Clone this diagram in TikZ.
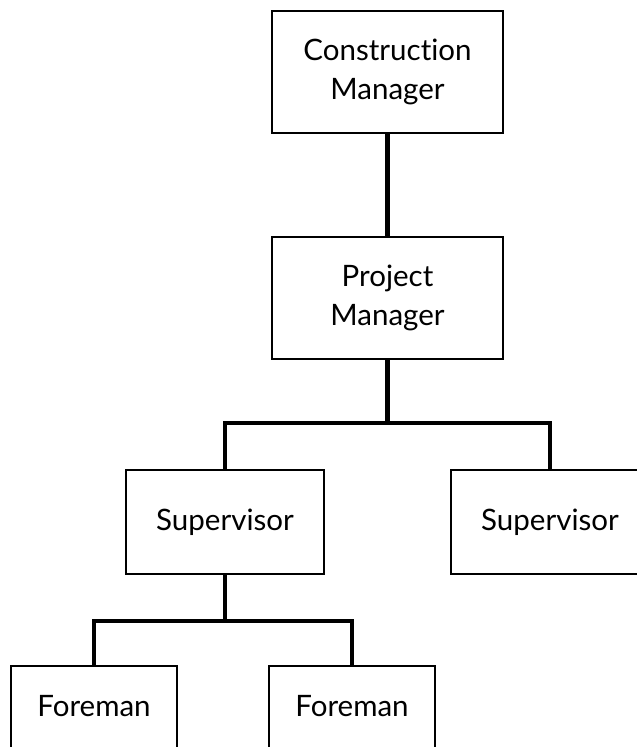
\documentclass[tikz,border=0pt]{standalone}
\usepackage{fontspec}
\setmainfont{Lato}[Ligatures={NoCommon,NoContextual}]
\begin{document}
\begin{tikzpicture}[x=1pt,y=-1pt,
  box/.style={draw, line width=2pt, align=center, inner sep=0pt,
    font=\fontsize{29.5}{39}\selectfont},
  bigbox/.style={box, minimum width=231pt, minimum height=122pt},
  supbox/.style={box, minimum width=198pt, minimum height=104pt},
  forebox/.style={box, minimum width=166pt, minimum height=86pt, text depth=6pt},
  link/.style={line width=4.5pt, line join=miter}]
\useasboundingbox (0,0) rectangle (637,747);
\node[bigbox] (cm) at (387.5,72) {Construction\\Manager};
\node[bigbox] (pm) at (387.5,298) {Project\\Manager};
\node[supbox] (s1) at (225,522) {Supervisor};
\node[supbox] (s2) at (550,522) {Supervisor};
\node[forebox] (f1) at (94,709) {Foreman};
\node[forebox] (f2) at (352,709) {Foreman};
\coordinate (j1) at (387.5,423);
\coordinate (j2) at (225,621);
\draw[link] (cm.south) -- (pm.north);
\draw[link] (pm.south) -- (j1);
\draw[link] (s1.north) |- (j1) -| (s2.north);
\draw[link] (s1.south) -- (j2);
\draw[link] (f1.north) |- (j2) -| (f2.north);
\end{tikzpicture}
\end{document}
